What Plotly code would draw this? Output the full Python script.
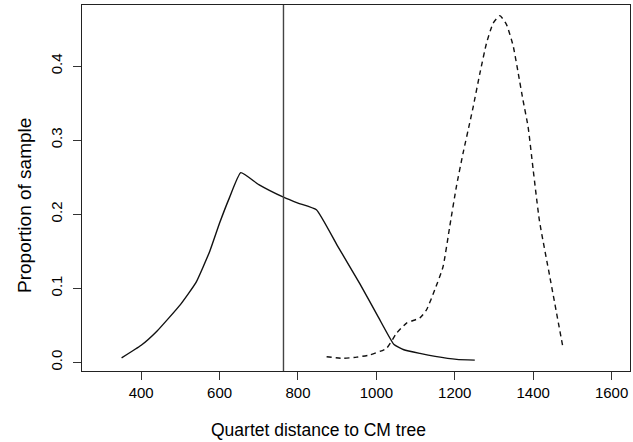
import plotly.graph_objects as go

# Solid curve (first sample)
solid_x = [350, 400, 440, 500, 540, 575, 600, 625, 654, 700, 763, 800, 847,
           900, 958, 1005, 1045, 1070, 1111, 1150, 1205, 1251]
solid_y = [0.006, 0.023, 0.042, 0.078, 0.108, 0.150, 0.188, 0.222, 0.256, 0.240,
           0.223, 0.215, 0.206, 0.158, 0.106, 0.061, 0.024, 0.017, 0.012,
           0.008, 0.004, 0.003]

# Dashed curve (second sample)
dashed_x = [873, 915, 950, 983, 1026, 1051, 1077, 1111, 1128, 1149, 1170, 1187,
            1204, 1221, 1238, 1247, 1264, 1281, 1298, 1315, 1332, 1349, 1362,
            1374, 1387, 1400, 1416, 1443, 1476]
dashed_y = [0.0076, 0.0054, 0.007, 0.010, 0.019, 0.039, 0.053, 0.060, 0.071, 0.098,
            0.129, 0.183, 0.237, 0.282, 0.323, 0.345, 0.390, 0.431, 0.458, 0.468,
            0.456, 0.427, 0.390, 0.354, 0.318, 0.260, 0.191, 0.114, 0.020]

# Observed distance (vertical line)
observed_distance = 763

x_ticks = [400, 600, 800, 1000, 1200, 1400, 1600]
y_ticks = [0.0, 0.1, 0.2, 0.3, 0.4]
y_tick_labels = ["0.0", "0.1", "0.2", "0.3", "0.4"]

x_title = "Quartet distance to CM tree"
y_title = "Proportion of sample"

FONT = "Liberation Sans, Arial, Helvetica, sans-serif"

fig = go.Figure()
fig.add_trace(go.Scatter(x=solid_x, y=solid_y, mode="lines",
                         line=dict(color="#111111", width=1.4, shape="spline",
                                   smoothing=0.4), showlegend=False))
fig.add_trace(go.Scatter(x=dashed_x, y=dashed_y, mode="lines",
                         line=dict(color="#111111", width=1.4, dash="5px,4px",
                                   shape="spline", smoothing=0.5),
                         showlegend=False))
fig.add_shape(type="line", x0=observed_distance, x1=observed_distance,
              y0=0, y1=1, yref="paper", xref="x",
              line=dict(color="#444444", width=1.4))

fig.update_layout(
    width=633, height=442, autosize=False,
    margin=dict(l=82, r=3, t=5, b=71),
    paper_bgcolor="white", plot_bgcolor="white",
    font=dict(family=FONT, size=15, color="black"),
    annotations=[
        dict(text=x_title, xref="paper", yref="paper", x=0.4316, y=-0.161,
             xanchor="center", yanchor="middle", showarrow=False,
             font=dict(size=17.5, family=FONT, color="black")),
        dict(text=y_title, xref="paper", yref="paper", x=-0.104, y=0.451,
             xanchor="center", yanchor="middle", showarrow=False, textangle=-90,
             font=dict(size=19, family=FONT, color="black")),
    ],
)
fig.update_xaxes(
    range=[249, 1647], tickvals=x_ticks, ticks="outside", ticklen=8,
    tickcolor="#333333", showline=True, mirror=True, linecolor="#222222",
    linewidth=1, showgrid=False, zeroline=False, automargin=False,
    tickfont=dict(size=15, family=FONT),
)
fig.update_yaxes(
    range=[-0.0117, 0.4824], tickvals=y_ticks, ticktext=y_tick_labels,
    ticks="outside", ticklen=8, tickcolor="#333333", tickangle=-90,
    showline=True, mirror=True, linecolor="#222222", linewidth=1,
    showgrid=False, zeroline=False, ticklabelstandoff=5, automargin=False,
    tickfont=dict(size=15, family=FONT),
)

fig.write_html("out.html", config={"displayModeBar": False},
               post_script="document.body.style.margin='0';document.body.style.overflow='hidden';")
